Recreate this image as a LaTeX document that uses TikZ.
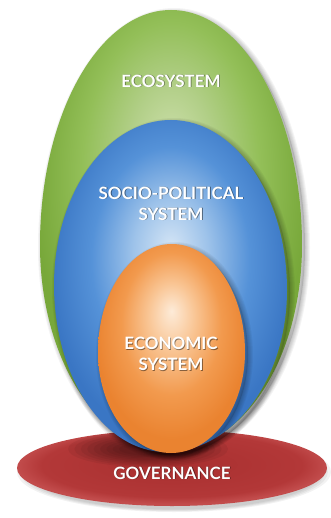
\documentclass[tikz,border=0pt]{standalone}
\usepackage{fontspec}
\setmainfont{Lato}
\definecolor{gA}{HTML}{CCDFAA}
\definecolor{gB}{HTML}{B2CF88}
\definecolor{gC}{HTML}{93BF58}
\definecolor{gD}{HTML}{78A83A}
\definecolor{bA}{HTML}{D3E4F5}
\definecolor{bB}{HTML}{9EC3EA}
\definecolor{bC}{HTML}{5592D8}
\definecolor{bD}{HTML}{3A76C4}
\definecolor{oA}{HTML}{FDEBD8}
\definecolor{oB}{HTML}{F9C594}
\definecolor{oC}{HTML}{F29A4E}
\definecolor{oD}{HTML}{EA8330}
\definecolor{rA}{HTML}{A82F2F}
\definecolor{rB}{HTML}{B33838}
\definecolor{rC}{HTML}{C24C4C}
\pgfdeclareradialshading{greenshade}{\pgfpoint{0bp}{10bp}}{color(0bp)=(gA); color(8bp)=(gB); color(17bp)=(gC); color(26bp)=(gD); color(50bp)=(gD)}
\pgfdeclareradialshading{blueshade}{\pgfpoint{0bp}{6bp}}{color(0bp)=(bA); color(8bp)=(bB); color(17bp)=(bC); color(26bp)=(bD); color(50bp)=(bD)}
\pgfdeclareradialshading{orangeshade}{\pgfpoint{0bp}{9bp}}{color(0bp)=(oA); color(8bp)=(oB); color(17bp)=(oC); color(26bp)=(oD); color(50bp)=(oD)}
\pgfdeclareradialshading{redshade}{\pgfpoint{0bp}{3bp}}{color(0bp)=(rA); color(21bp)=(rB); color(25bp)=(rC); color(50bp)=(rC)}
\def\greenegg{(171,10) .. controls (98.7,10) and (40,115.2) .. (40,245)
  .. controls (40,358.2) and (98.2,450) .. (170,450)
  .. controls (242.9,450) and (302,358.2) .. (302,245)
  .. controls (302,115.2) and (243.3,10) .. (171,10) -- cycle}
\def\blueegg{(171,120) .. controls (106.4,120) and (54,193.9) .. (54,285)
  .. controls (54,377.2) and (104.1,452) .. (166,452)
  .. controls (232.8,452) and (287,379.5) .. (287,290)
  .. controls (287,196.1) and (235.1,120) .. (171,120) -- cycle}
\def\orangeegg{(172,244) .. controls (131.1,244) and (98,292.4) .. (98,352)
  .. controls (98,407.8) and (130.7,453) .. (171,453)
  .. controls (211.9,453) and (245,407.8) .. (245,352)
  .. controls (245,292.4) and (212.3,244) .. (172,244) -- cycle}
\tikzset{
  eggshadow/.style={black,opacity=0.045},
  label/.style={text=white,font=\fontsize{17}{21}\selectfont\bfseries,align=center,inner sep=0pt},
  labelshadow/.style={text=black,text opacity=0.45,font=\fontsize{17}{21}\selectfont\bfseries,align=center,inner sep=0pt}
}
\begin{document}
\begin{tikzpicture}[x=1pt,y=-1pt]
\useasboundingbox (0,0) rectangle (331,518);
\fill[white] (0,0) rectangle (331,518);
% shadow under governance
\foreach \s in {1,0.98,0.96,0.94} {\fill[black,opacity=0.05] (174,472) ellipse ({157*\s} and {40*\s});}
\shade[shading=redshade] (172,468) ellipse (155 and 38);
% shadow of eggs on governance
\begin{scope}
\clip (172,468) ellipse (155 and 38);
\foreach \s in {1,0.92,0.84,0.76,0.68,0.6,0.52,0.44,0.36} {\fill[black,opacity=0.055] (148,449) ellipse ({80*\s} and {18*\s});}
\end{scope}
\node[labelshadow] (govS) at (172.8,473.8) {GOVERNANCE};
% green egg
\begin{scope}[shift={(3,3)}]
\foreach \w in {10,8,6,4,2} {\draw[eggshadow,line width=\w pt] \greenegg;}
\fill[black,opacity=0.12] \greenegg;
\end{scope}
\shade[shading=greenshade] \greenegg;
% blue egg
\begin{scope}[shift={(3,3)}]
\foreach \w in {10,8,6,4,2} {\draw[eggshadow,line width=\w pt] \blueegg;}
\fill[black,opacity=0.12] \blueegg;
\end{scope}
\shade[shading=blueshade] \blueegg;
% orange egg
\begin{scope}[shift={(3,3)}]
\foreach \w in {10,8,6,4,2} {\draw[eggshadow,line width=\w pt] \orangeegg;}
\fill[black,opacity=0.12] \orangeegg;
\end{scope}
\shade[shading=orangeshade] \orangeegg;
% labels
\node[labelshadow] (ecoS) at (171.8,81.8) {ECOSYSTEM};
\node[label] (eco) at (171,81) {ECOSYSTEM};
\node[labelshadow] (socS) at (171.8,204.3) {SOCIO-POLITICAL\\SYSTEM};
\node[label] (soc) at (171,203.5) {SOCIO-POLITICAL\\SYSTEM};
\node[labelshadow] (econS) at (171.8,354.8) {ECONOMIC\\SYSTEM};
\node[label] (econ) at (171,354) {ECONOMIC\\SYSTEM};
\node[label] (gov) at (172,473) {GOVERNANCE};
\end{tikzpicture}
\end{document}
